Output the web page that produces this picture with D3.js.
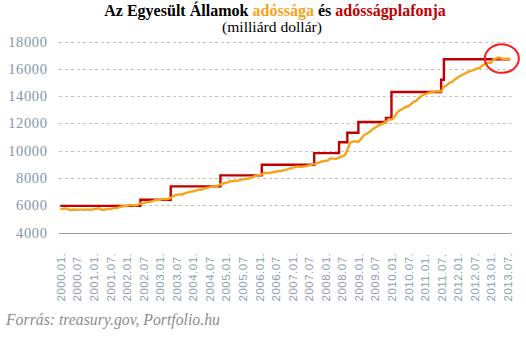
<!DOCTYPE html>
<html>
<head>
<meta charset="utf-8">
<script src="https://cdn.jsdelivr.net/npm/d3@7/dist/d3.min.js"></script>
<style>
  html, body { margin: 0; padding: 0; background: #ffffff; }
  svg { display: block; }
</style>
</head>
<body>
<svg id="chart" width="526" height="346"></svg>
<script>
// Month categories 2000.01 – 2013.08
const firstYear = 2000, lastYear = 2013, lastMonth = 8;

// Total public debt outstanding, end of month (billion USD), one row per year
const debt2000 = [5711, 5735, 5773, 5686, 5647, 5685, 5658, 5677, 5674, 5657, 5700, 5662];
const debt2001 = [5716, 5736, 5774, 5662, 5664, 5727, 5718, 5769, 5807, 5815, 5888, 5943];
const debt2002 = [5937, 6003, 6006, 5984, 6019, 6126, 6159, 6210, 6228, 6282, 6343, 6405];
const debt2003 = [6401, 6445, 6460, 6460, 6529, 6670, 6760, 6783, 6783, 6872, 6925, 6998];
const debt2004 = [7001, 7069, 7131, 7138, 7221, 7274, 7305, 7364, 7379, 7429, 7525, 7596];
const debt2005 = [7628, 7713, 7777, 7776, 7788, 7836, 7873, 7928, 7933, 8027, 8092, 8170];
const debt2006 = [8196, 8269, 8371, 8358, 8365, 8420, 8452, 8509, 8507, 8576, 8612, 8680];
const debt2007 = [8708, 8799, 8849, 8815, 8836, 8867, 8910, 8984, 9008, 9078, 9141, 9229];
const debt2008 = [9238, 9294, 9437, 9414, 9398, 9492, 9585, 9645, 10025, 10574, 10661, 10700];
const debt2009 = [10632, 10878, 11127, 11239, 11363, 11545, 11670, 11813, 11910, 11991, 12114, 12311];
const debt2010 = [12278, 12440, 12773, 12949, 13050, 13202, 13239, 13399, 13562, 13667, 13861, 14025];
const debt2011 = [14131, 14195, 14270, 14290, 14344, 14343, 14343, 14684, 14790, 14975, 15040, 15223];
const debt2012 = [15356, 15487, 15582, 15693, 15771, 15856, 15934, 16016, 16066, 16261, 16370, 16433];
const debt2013 = [16433, 16687, 16771, 16828, 16738, 16738, 16738, 16738];

// Debt ceiling: month from which each level applies (billion USD)
const ceilingMonths = ["2000.01", "2002.06", "2003.05", "2004.11", "2006.02", "2007.09",
                       "2008.06", "2008.09", "2009.01", "2009.11", "2010.01", "2011.07", "2011.08"];
const ceilingValues = [5950, 6400, 7384, 8184, 8965, 9815,
                       10615, 11315, 12104, 12394, 14294, 15194, 16699];

// Axis labels
const yTicks = [4000, 6000, 8000, 10000, 12000, 14000, 16000, 18000];
const xTickLabels = ["2000.01.", "2000.07", "2001.01.", "2001.07.", "2002.01.", "2002.07",
  "2003.01.", "2003.07", "2004.01.", "2004.07", "2005.01.", "2005.07", "2006.01.", "2006.07",
  "2007.01.", "2007.07", "2008.01.", "2008.07", "2009.01.", "2009.07", "2010.01.", "2010.07.",
  "2011.01.", "2011.07.", "2012.01.", "2012.07.", "2013.01.", "2013.07."];

// Highlighted point: latest months at the ceiling
const highlightMonth = "2013.05";
const highlightValue = 16750;

const colors = { debt: "#f7a21b", ceiling: "#c00000", ring: "#ff1a1a" };

// ---- build month list and debt series
const months = [];
for (let y = firstYear; y <= lastYear; y++) {
  const mEnd = (y === lastYear) ? lastMonth : 12;
  for (let m = 1; m <= mEnd; m++) months.push(y + "." + String(m).padStart(2, "0"));
}
const debtValues = [].concat(debt2000, debt2001, debt2002, debt2003, debt2004, debt2005,
  debt2006, debt2007, debt2008, debt2009, debt2010, debt2011, debt2012, debt2013);
const debtSeries = months.map((m, i) => ({ month: m, value: debtValues[i] }));

const ceilingSeries = ceilingMonths.map((m, i) => ({ month: m, value: ceilingValues[i] }));
ceilingSeries.push({ month: months[months.length - 1], value: ceilingValues[ceilingValues.length - 1] });

// ---- layout
const svg = d3.select("#chart");
const plot = { left: 59, right: 511.5, top: 41.5, bottom: 232.5 };

const x = d3.scalePoint().domain(months).range([plot.left, plot.right]).padding(0.5);
const y = d3.scaleLinear().domain([4000, 18000]).range([plot.bottom, plot.top]);

// gridlines
svg.append("g").selectAll("line")
  .data(yTicks.filter(t => t !== 4000))
  .join("line")
  .attr("x1", plot.left).attr("x2", plot.right)
  .attr("y1", d => Math.round(y(d)) + 0.5).attr("y2", d => Math.round(y(d)) + 0.5)
  .attr("stroke", "#c3c3c3").attr("stroke-width", 1)
  .attr("stroke-dasharray", "3,3");

// y axis labels
const yAxis = d3.axisLeft(y).tickValues(yTicks).tickSize(0).tickPadding(0).tickFormat(d3.format("d"));
const yG = svg.append("g").attr("transform", `translate(${47.5},0)`).call(yAxis);
yG.select(".domain").remove();
yG.selectAll("text")
  .attr("font-family", "'Liberation Serif', 'DejaVu Serif', serif")
  .attr("font-size", 14.5)
  .attr("letter-spacing", 0.6)
  .attr("fill", "#8393ab");

// x axis baseline
const xAxis = d3.axisBottom(x)
  .tickValues(months.filter((m, i) => i % 6 === 0))
  .tickSize(0).tickPadding(0)
  .tickFormat((m) => xTickLabels[months.indexOf(m) / 6]);
const xG = svg.append("g").attr("transform", `translate(0,${Math.round(plot.bottom) + 0.5})`).call(xAxis);
xG.select(".domain").attr("stroke", "#9a9a9a").attr("stroke-width", 1)
  .attr("d", `M${plot.left},0H${plot.right}`);
xG.selectAll("text")
  .attr("font-family", "'Liberation Sans', Arial, sans-serif")
  .attr("font-size", 11.5)
  .attr("letter-spacing", 0.5)
  .attr("fill", "#8d9db4")
  .attr("text-anchor", "start")
  .attr("dy", "0.35em")
  .attr("transform", "translate(0,68) rotate(-90)");

// ceiling (step) line
svg.append("path")
  .datum(ceilingSeries)
  .attr("fill", "none")
  .attr("stroke", colors.ceiling)
  .attr("stroke-width", 2.4)
  .attr("d", d3.line().curve(d3.curveStepAfter).x(d => x(d.month)).y(d => y(d.value)));

// debt line
svg.append("path")
  .datum(debtSeries)
  .attr("fill", "none")
  .attr("stroke", colors.debt)
  .attr("stroke-width", 2.4)
  .attr("stroke-linejoin", "round")
  .attr("d", d3.line().x(d => x(d.month)).y(d => y(d.value)));

// highlight ring
svg.append("ellipse")
  .attr("cx", x(highlightMonth)).attr("cy", y(highlightValue))
  .attr("rx", 17).attr("ry", 14.3)
  .attr("fill", "none").attr("stroke", colors.ring).attr("stroke-width", 2);

// helper: scale a text's font size so it spans the given width
function fitWidth(sel, width) {
  const w = sel.node().getComputedTextLength();
  const fs = parseFloat(sel.attr("font-size"));
  sel.attr("font-size", (fs * width / w).toFixed(2));
}

// title
const title = svg.append("text")
  .attr("x", 275).attr("y", 15.5)
  .attr("text-anchor", "middle")
  .attr("font-family", "'Liberation Serif', 'DejaVu Serif', serif")
  .attr("font-weight", "bold")
  .attr("font-size", 15)
  .attr("fill", "#000");
title.append("tspan").text("Az Egyesült Államok ");
title.append("tspan").attr("fill", colors.debt).text("adóssága");
title.append("tspan").text(" és ");
title.append("tspan").attr("fill", colors.ceiling).text("adósságplafonja");
fitWidth(title, 342);

const subtitle = svg.append("text")
  .attr("x", 272).attr("y", 31.5)
  .attr("text-anchor", "middle")
  .attr("font-family", "'Liberation Serif', 'DejaVu Serif', serif")
  .attr("font-size", 14)
  .attr("fill", "#000")
  .text("(milliárd dollár)");
fitWidth(subtitle, 100);

// source note
const source = svg.append("text")
  .attr("x", 6).attr("y", 324.5)
  .attr("font-family", "'Liberation Serif', 'DejaVu Serif', serif")
  .attr("font-style", "italic")
  .attr("font-size", 14)
  .attr("fill", "#8c8c8c")
  .text("Forrás: treasury.gov, Portfolio.hu");
fitWidth(source, 214);
</script>
</body>
</html>
